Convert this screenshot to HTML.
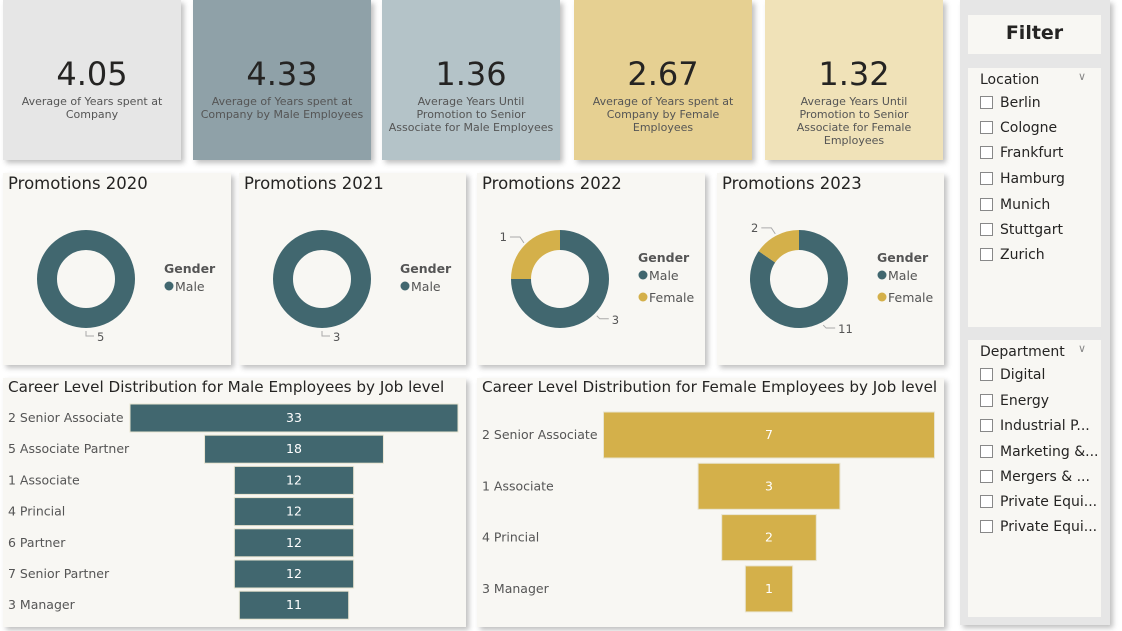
<!DOCTYPE html>
<html><head><meta charset="utf-8">
<style>
*{margin:0;padding:0;box-sizing:border-box}
body{width:1122px;height:631px;background:#fff;font-family:"DejaVu Sans","Liberation Sans",sans-serif;position:relative;overflow:hidden;color:#252423}
.abs{position:absolute}
.card{position:absolute;top:0;height:160px;width:178px;box-shadow:3px 3px 5px rgba(0,0,0,.25);text-align:center}
.card .v{position:absolute;top:55px;left:0;right:0;font-size:32px;color:#252423}
.card .l{position:absolute;top:95px;left:14px;right:14px;font-size:11px;line-height:13px;color:#555}
.panel{position:absolute;background:#f8f7f3;box-shadow:3px 3px 5px rgba(0,0,0,.25)}
.ptitle{position:absolute;left:5px;top:1px;font-size:16.5px;color:#252423;white-space:nowrap}
.fbox{position:absolute;background:#f8f7f3;left:968px;width:133px}
.item{position:absolute;left:12px;font-size:14px;color:#252423;white-space:nowrap}
.item span{display:inline-block;width:13px;height:13px;border:1px solid #888;background:#fff;vertical-align:-2px;margin-right:7px}
svg text{font-family:"DejaVu Sans","Liberation Sans",sans-serif}
</style></head><body>
<div class="abs" style="left:960px;top:0;width:150px;height:625px;background:#e6e6e6;box-shadow:3px 3px 5px rgba(0,0,0,.25)"></div>

<div class="card" style="left:3px;background:#e6e6e6"><div class="v">4.05</div><div class="l">Average of Years spent at Company</div></div>
<div class="card" style="left:193px;background:#8fa1a8"><div class="v">4.33</div><div class="l" style="left:6px;right:6px">Average of Years spent at Company by Male Employees</div></div>
<div class="card" style="left:382px;background:#b4c3c8"><div class="v">1.36</div><div class="l" style="left:6px;right:6px">Average Years Until<br>Promotion to Senior<br>Associate for Male Employees</div></div>
<div class="card" style="left:574px;background:#e6d092"><div class="v">2.67</div><div class="l">Average of Years spent at Company by Female Employees</div></div>
<div class="card" style="left:765px;background:#f0e2b8"><div class="v">1.32</div><div class="l">Average Years Until Promotion to Senior Associate for Female Employees</div></div>

<div class="panel" style="left:3px;top:173px;width:228px;height:192px"><div class="ptitle">Promotions 2020</div></div>
<div class="panel" style="left:239px;top:173px;width:227px;height:192px"><div class="ptitle">Promotions 2021</div></div>
<div class="panel" style="left:477px;top:173px;width:228px;height:192px"><div class="ptitle">Promotions 2022</div></div>
<div class="panel" style="left:717px;top:173px;width:227px;height:192px"><div class="ptitle">Promotions 2023</div></div>
<div class="panel" style="left:3px;top:378px;width:463px;height:249px"><div class="ptitle" style="top:0;font-size:15.2px">Career Level Distribution for Male Employees by Job level</div></div>
<div class="panel" style="left:477px;top:378px;width:467px;height:249px"><div class="ptitle" style="top:0;font-size:15.2px">Career Level Distribution for Female Employees by Job level</div></div>

<svg id="chart" class="abs" style="left:0;top:0" width="1122" height="631"></svg>

<div class="fbox" style="top:15px;height:39px;text-align:center;font-weight:bold;font-size:19px;line-height:37px">Filter</div>
<div class="fbox" style="top:68px;height:259px">
 <div class="item" style="top:4px;font-size:14px">Location</div><div class="abs" style="left:110px;top:2px;font-size:11px;color:#888">&#x2228;</div>
 <div class="item" style="top:27px"><span></span>Berlin</div>
 <div class="item" style="top:52px"><span></span>Cologne</div>
 <div class="item" style="top:77px"><span></span>Frankfurt</div>
 <div class="item" style="top:103px"><span></span>Hamburg</div>
 <div class="item" style="top:129px"><span></span>Munich</div>
 <div class="item" style="top:154px"><span></span>Stuttgart</div>
 <div class="item" style="top:179px"><span></span>Zurich</div>
</div>
<div class="fbox" style="top:340px;height:277px">
 <div class="item" style="top:4px">Department</div><div class="abs" style="left:110px;top:2px;font-size:11px;color:#888">&#x2228;</div>
 <div class="item" style="top:27px"><span></span>Digital</div>
 <div class="item" style="top:53px"><span></span>Energy</div>
 <div class="item" style="top:78px"><span></span>Industrial P...</div>
 <div class="item" style="top:104px"><span></span>Marketing &amp;...</div>
 <div class="item" style="top:129px"><span></span>Mergers &amp; ...</div>
 <div class="item" style="top:154px"><span></span>Private Equi...</div>
 <div class="item" style="top:179px"><span></span>Private Equi...</div>
</div>

<script>
const maleLevels=["2 Senior Associate","5 Associate Partner","1 Associate","4 Princial","6 Partner","7 Senior Partner","3 Manager"];
const maleValues=[33,18,12,12,12,12,11];
const femaleLevels=["2 Senior Associate","1 Associate","4 Princial","3 Manager"];
const femaleValues=[7,3,2,1];
const donutYears=["2020","2021","2022","2023"];
const donutMale=[5,3,3,11];
const donutFemale=[0,0,1,2];

const NS="http://www.w3.org/2000/svg";
const svg=document.getElementById('chart');
const TEAL="#41676f",GOLD="#d4b04a";
function mk(t,a,txt){const e=document.createElementNS(NS,t);for(const k in a)e.setAttribute(k,a[k]);if(txt!==undefined)e.textContent=txt;svg.appendChild(e);return e;}

function funnel(levels,vals,cx,maxW,top,pitch,h,color,nm){
  const mx=Math.max(...vals);
  const sx=v=>v/mx*maxW;
  levels.forEach((l,i)=>{
    const y=top+i*pitch, w=sx(vals[i]);
    const lab=mk('text',{x:cx<500?8:482,y:y+h/2+4,'font-size':12.5,fill:'#555'},l);
    
    
    const r=mk('rect',{x:cx-w/2,y:y,width:w,height:h,fill:color,stroke:'#e8e4d0','stroke-width':1});
    
    
    const t=mk('text',{x:cx,y:y+h/2+4,'font-size':12.5,fill:'#fff','text-anchor':'middle'},vals[i]);
    
    
  });
}
funnel(maleLevels,maleValues,294,328,404,31.2,28,TEAL,'male');
funnel(femaleLevels,femaleValues,769,331,412,51.3,46,GOLD,'female');

const cxs=[86,322,560,799], cy=279, R=49, r0=29;
function arc(cx,a0,a1){
  const p=(a,rr)=>[cx+rr*Math.sin(a),cy-rr*Math.cos(a)];
  const large=(a1-a0)>Math.PI?1:0;
  const [x1,y1]=p(a0,R),[x2,y2]=p(a1,R),[x3,y3]=p(a1,r0),[x4,y4]=p(a0,r0);
  return `M${x1} ${y1}A${R} ${R} 0 ${large} 1 ${x2} ${y2}L${x3} ${y3}A${r0} ${r0} 0 ${large} 0 ${x4} ${y4}Z`;
}
donutYears.forEach((yr,i)=>{
  const cx=cxs[i], m=donutMale[i], f=donutFemale[i], tot=m+f;
  if(f===0){
    const c=mk('circle',{cx:cx,cy:cy,r:(R+r0)/2,fill:'none',stroke:TEAL,'stroke-width':R-r0});
    
    
  }else{
    const am=m/tot*2*Math.PI;
    const pm=mk('path',{d:arc(cx,0,am),fill:TEAL});
    
    
    const pf=mk('path',{d:arc(cx,am,2*Math.PI),fill:GOLD});
    
    
  }
  const am=m/tot*2*Math.PI;
  const mid=am/2;
  const lx=cx+(R+3)*Math.sin(mid), ly=cy-(R+3)*Math.cos(mid);
  const right=Math.sin(mid)>0.01;
  if(right){
    mk('polyline',{points:`${lx},${ly} ${lx+3},${ly+3} ${lx+12},${ly+3}`,fill:'none',stroke:'#aaa'});
  }else{
    mk('polyline',{points:`${lx},${ly} ${lx},${ly+5} ${lx+8},${ly+5}`,fill:'none',stroke:'#aaa'});
  }
  const ml=mk('text',{x:right?lx+15:lx+11,y:right?ly+8:ly+10,'font-size':11.5,fill:'#555'},m);
  
  
  if(f>0){
    const fm=(am+2*Math.PI)/2;
    const fx=cx+(R+2)*Math.sin(fm), fy=cy-(R+2)*Math.cos(fm);
    mk('polyline',{points:`${fx},${fy} ${fx-4},${fy-6} ${fx-14},${fy-6}`,fill:'none',stroke:'#aaa'});
    const fl=mk('text',{x:fx-17,y:fy-2,'font-size':11.5,fill:'#555','text-anchor':'end'},f);
    
    
  }
  const gx=cx+78, gy=f>0?262:273;
  const g=mk('text',{x:gx,y:gy,'font-size':12.5,'font-weight':'bold',fill:'#555'},'Gender');
  
  
  mk('circle',{cx:gx+5,cy:gy+13,r:4.5,fill:TEAL});
  const lm=mk('text',{x:gx+11,y:gy+18,'font-size':12.5,fill:'#555'},'Male');
  
  
  if(f>0){
    mk('circle',{cx:gx+5,cy:gy+35,r:4.5,fill:GOLD});
    const lf=mk('text',{x:gx+11,y:gy+40,'font-size':12.5,fill:'#555'},'Female');
    
    
  }
});
</script>
</body></html>
